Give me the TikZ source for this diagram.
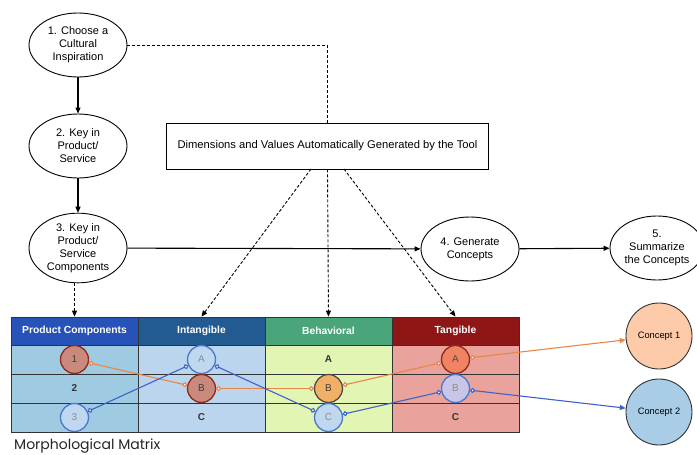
\documentclass[tikz,border=0pt]{standalone}
\usepackage{fontspec}
\setmainfont{Liberation Sans}
\newfontfamily\titlefont{Poppins}
\usetikzlibrary{shapes.geometric,arrows.meta}
\definecolor{hpc}{HTML}{2752B8}
\definecolor{hint}{HTML}{215B92}
\definecolor{hbeh}{HTML}{4AA57A}
\definecolor{htan}{HTML}{8E1616}
\definecolor{bpc}{HTML}{9FCBE2}
\definecolor{bint}{HTML}{BCD5EF}
\definecolor{bbeh}{HTML}{E3F5B2}
\definecolor{btan}{HTML}{E9A29C}
\definecolor{orl}{HTML}{EA8548}
\definecolor{bll}{HTML}{3F62C8}
\definecolor{cbrown}{HTML}{C98A7C}
\definecolor{cred}{HTML}{8E2A20}
\definecolor{clblue}{HTML}{BFD8F0}
\definecolor{cblue}{HTML}{4A78D0}
\definecolor{corange}{HTML}{F1B066}
\definecolor{ctan}{HTML}{F08462}
\definecolor{clav}{HTML}{C9C5E6}
\definecolor{conone}{HTML}{FDCBA9}
\definecolor{contwo}{HTML}{A9CDE6}
\tikzset{
  stepnode/.style={draw, ellipse, line width=0.9pt, minimum width=98pt, minimum height=64pt, inner sep=0pt, align=center, font=\fontsize{11}{13}\selectfont},
  flow/.style={line width=1.1pt, -{Triangle[length=6pt,width=5pt]}},
  dashline/.style={line width=0.9pt, dash pattern=on 3pt off 2pt},
  dasharrow/.style={dashline, -{Triangle[length=6pt,width=5pt]}},
  hdr/.style={draw=black!80, line width=0.8pt, minimum width=127pt, minimum height=28pt, inner sep=0pt, text=white, font=\fontsize{10.3}{12}\bfseries\selectfont},
  cell/.style={draw=black!80, line width=0.8pt, minimum width=127pt, minimum height=29pt, inner sep=0pt},
  celltext/.style={font=\fontsize{10}{12}\bfseries\selectfont, text=black!80},
  val/.style={circle, line width=1.3pt, minimum size=28pt, inner sep=0pt, font=\fontsize{10}{12}\selectfont},
  concept/.style={circle, draw=black!80, line width=0.9pt, minimum size=66pt, inner sep=0pt, font=\fontsize{9.3}{11}\selectfont},
  oline/.style={orl, line width=1.1pt, {Circle[open,length=5pt,width=5pt,fill=white]}-{Circle[open,length=5pt,width=5pt,fill=white]}},
  bline/.style={bll, line width=1.1pt, {Circle[open,length=5pt,width=5pt,fill=white]}-{Circle[open,length=5pt,width=5pt,fill=white]}},
  oarrow/.style={orl, line width=1.1pt, {Circle[open,length=5pt,width=5pt,fill=white]}-{Triangle[length=6pt,width=5pt]}},
  barrow/.style={bll, line width=1.1pt, {Circle[open,length=5pt,width=5pt,fill=white]}-{Triangle[length=6pt,width=5pt]}},
}
\begin{document}
\begin{tikzpicture}[x=1pt,y=-1pt]
\useasboundingbox[fill=white] (0,0) rectangle (697,455);

% flow nodes
\node[stepnode] (s1) at (78,45) {1. Choose a\\Cultural\\Inspiration};
\node[stepnode] (s2) at (78,146) {2. Key in\\Product/\\Service};
\node[stepnode] (s3) at (78,248) {3. Key in\\Product/\\Service\\Components};
\node[stepnode] (s4) at (470,249) {4. Generate\\Concepts};
\node[stepnode, minimum width=94pt] (s5) at (657,248) {5.\\Summarize\\the Concepts};
\node[draw, line width=0.9pt, minimum width=322pt, minimum height=46pt, inner sep=0pt, font=\fontsize{11.2}{13}\selectfont] (dim) at (327.5,146) {Dimensions and Values Automatically Generated by the Tool};

\draw[flow] (s1) -- (s2);
\draw[flow] (s2) -- (s3);
\draw[flow] (s3) -- (s4);
\draw[flow] (s4) -- (s5);
\draw[dashline] (s1.east) -| (dim.north);

% table headers
\node[hdr, fill=hpc] (hpc) at (74.5,331) {Product Components};
\node[hdr, fill=hint] (hint) at (201.5,331) {Intangible};
\node[hdr, fill=hbeh] (hbeh) at (328.5,331) {Behavioral};
\node[hdr, fill=htan] (htan) at (455.5,331) {Tangible};

% cells
\foreach \x/\c/\n in {74.5/bpc/p, 201.5/bint/i, 328.5/bbeh/b, 455.5/btan/t}{
  \node[cell, fill=\c] (\n1) at (\x,359.5) {};
  \node[cell, fill=\c] (\n2) at (\x,388.5) {};
  \node[cell, fill=\c] (\n3) at (\x,417.5) {};
}
\node[celltext] (tx2) at (p2) {2};
\node[celltext] (txiC) at (i3) {C};
\node[celltext] (txbA) at (b1) {A};
\node[celltext] (txtC) at (t3) {C};

% dashed arrows into headers
\coordinate (dl) at (311,169);
\coordinate (dr) at (344,169);
\draw[dasharrow] (s3.south -| hpc.north) -- (hpc.north);
\draw[dasharrow] (dl) -- (hint.north);
\draw[dasharrow] (dim.south) -- (hbeh.north);
\draw[dasharrow] (dr) -- (htan.north);

% value circles
\node[val, draw=cred, fill=cbrown, text=black!75] (v1) at (p1) {1};
\node[val, draw=cblue, fill=clblue, text=black!45] (v3) at (p3) {3};
\node[val, draw=cblue, fill=clblue, text=black!45] (iA) at (i1) {A};
\node[val, draw=cred, fill=cbrown, text=black!75] (iB) at (i2) {B};
\node[val, draw=black!70, fill=corange, text=black!75] (bB) at (b2) {B};
\node[val, draw=cblue, fill=clblue, text=black!45] (bC) at (b3) {C};
\node[val, draw=cred, fill=ctan, text=black!70] (tA) at (t1) {A};
\node[val, draw=cblue, fill=clav, text=black!45] (tB) at (t2) {B};

% concepts
\node[concept, fill=conone] (c1) at (659,336) {Concept 1};
\node[concept, fill=contwo] (c2) at (659,412) {Concept 2};

% paths
\draw[oline] (v1) -- (iB);
\draw[oline] (iB) -- (bB);
\draw[oline] (bB) -- (tA);
\draw[oarrow] (tA) -- (c1);
\draw[bline] (v3) -- (iA);
\draw[bline] (iA) -- (bC);
\draw[bline] (bC) -- (tB);
\draw[barrow] (tB) -- (c2);

\node[anchor=base west, font=\titlefont\fontsize{14}{16}\selectfont, text=black!85, inner sep=0pt] (title) at (14,449) {Morphological Matrix};
\end{tikzpicture}
\end{document}
